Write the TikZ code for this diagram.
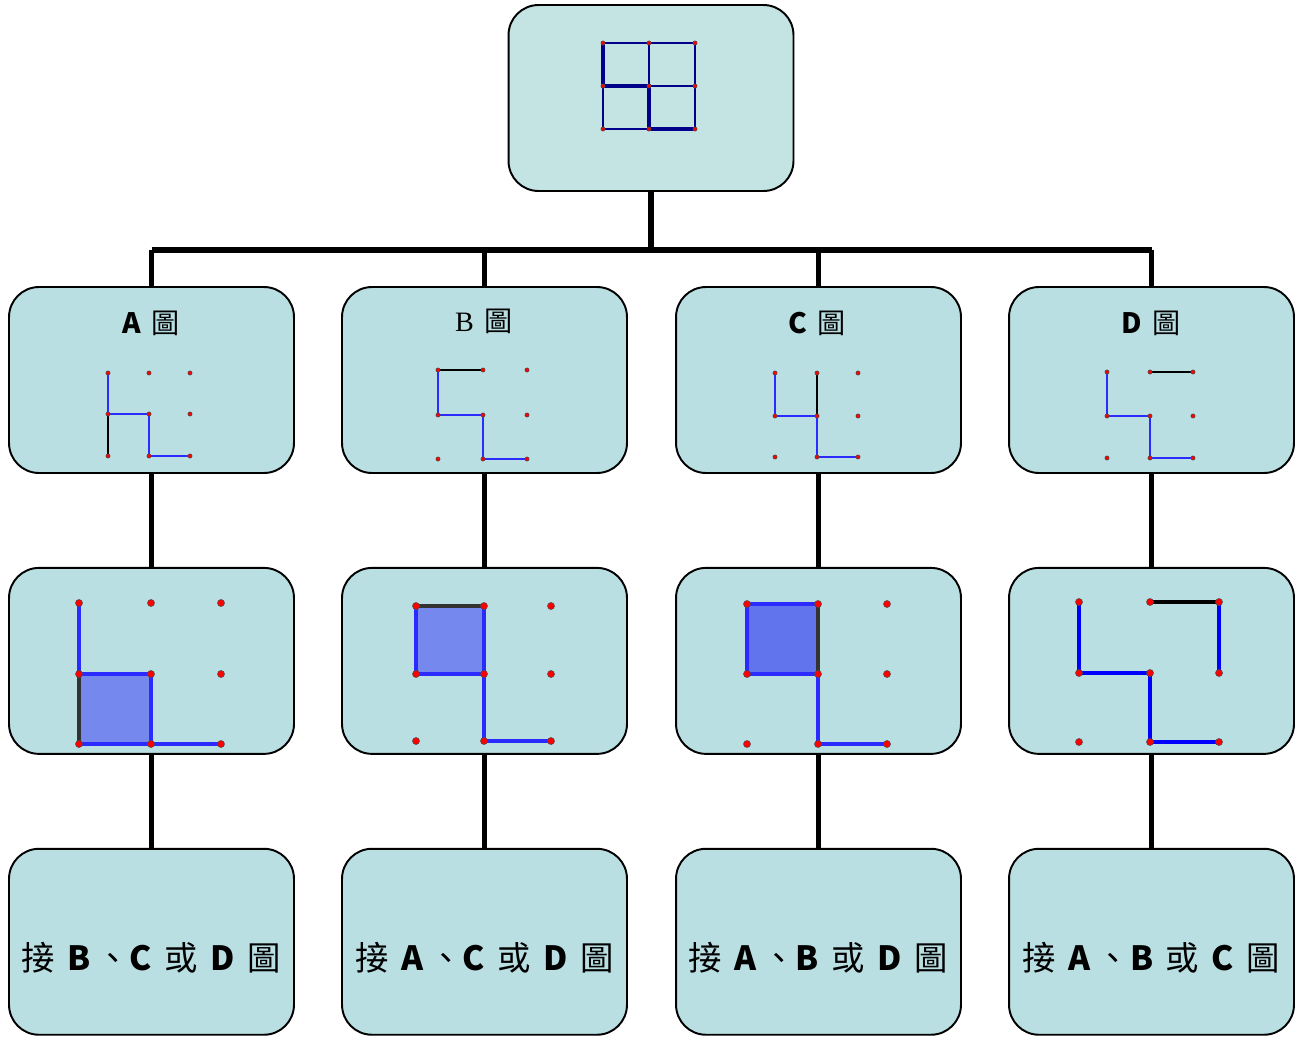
\documentclass[tikz,border=0pt]{standalone}
\usepackage{fontspec}
\setmainfont{Noto Sans CJK TC}
\newfontfamily\serifletter{Liberation Serif}
\usetikzlibrary{positioning}
\definecolor{boxtop}{HTML}{C4E3E3}
\definecolor{boxrow}{HTML}{BADFE3}
\definecolor{pathblue}{HTML}{2B2BFF}
\definecolor{sqfill}{HTML}{7488EE}
\definecolor{sqfilldark}{HTML}{6273EE}
\definecolor{gridnavy}{HTML}{00008B}
\tikzset{
  panel/.style={
    draw,
    line width=1.1pt,
    rounded corners=0.6cm,
    minimum width=5.7cm,
    minimum height=3.72cm,
    inner sep=0pt,
    fill=boxrow
  },
  branch/.style={
    line width=3.2pt
  },
  thinnavy/.style={
    line width=0.6pt,
    gridnavy
  },
  thicknavy/.style={
    line width=1.9pt,
    gridnavy
  },
  seg/.style={
    line width=1.5pt,
    pathblue
  },
  segfix/.style={
    line width=1.5pt,
    black
  },
  bigseg/.style={
    line width=2.3pt,
    pathblue
  },
  bigfix/.style={
    line width=2.3pt,
    black!80
  },
  dotsmall/.style={
    fill=red,
    draw=black!70,
    line width=0.3pt
  },
  heading/.style={
    font=\fontsize{16}{18}\selectfont,
    inner sep=1pt
  },
  rule/.style={
    font=\fontsize{19}{22}\selectfont
  }
}
\newcommand\Rs{1.2pt}
\newcommand\Rb{2pt}
\newcommand\Gap{\hspace{0.38em}}
\newcommand\Let[1]{\textbf{#1}}

\begin{document}
\begin{tikzpicture}[x=0.02cm, y=-0.02cm]
\useasboundingbox (0,0) rectangle (1301,1038);

       \node[panel, fill=boxtop] (top) at (651,98) {};

       \node[panel] (a1) at (151.5,380) {};
       \node[panel] (b1) at (484.5,380) {};
       \node[panel] (c1) at (818.5,380) {};
       \node[panel] (d1) at (1151.5,380) {};

       \node[panel, below=1.86cm of a1] (a2) {};
       \node[panel, below=1.86cm of b1] (b2) {};
       \node[panel, below=1.86cm of c1] (c2) {};
       \node[panel, below=1.86cm of d1] (d2) {};

       \node[panel, below=1.86cm of a2] (a3) {};
       \node[panel, below=1.86cm of b2] (b3) {};
       \node[panel, below=1.86cm of c2] (c3) {};
       \node[panel, below=1.86cm of d2] (d3) {};

       % tree connectors
       \coordinate (bar) at (651,250);
       \draw[branch] (top.south) -- (bar);
       \draw[branch] (a1.north |- bar) -- (d1.north |- bar);
       \foreach \n in {a,b,c,d}{
         \draw[branch] (\n1.north) -- (\n1.north |- bar);
         \draw[branch] (\n1.south) -- (\n2.north);
         \draw[branch] (\n2.south) -- (\n3.north);
       }

       % the full 2x2 grid
       \foreach \x in {603,649,695} \draw[thinnavy] (\x,43) -- (\x,129);
       \foreach \y in {43,86,129} \draw[thinnavy] (603,\y) -- (695,\y);
       \draw[thicknavy] (603,43) -- (603,86) -- (649,86) -- (649,129) -- (695,129);
       \foreach \x in {603,649,695}
         \foreach \y in {43,86,129}
           \filldraw[dotsmall] (\x,\y) circle (\Rs);

       % headings
       \node[heading] (ahead) at (151,323) {\Let{A}\Gap 圖};
       \node[heading] (bhead) at (484,321) {{\serifletter B}\Gap 圖};
       \node[heading] (chead) at (817,323) {\Let{C}\Gap 圖};
       \node[heading] (dhead) at (1151,323) {\Let{D}\Gap 圖};

       % A
       \draw[seg] (108,373) -- (108,414) -- (149,414) -- (149,456) -- (190,456);
       \draw[segfix] (108,414) -- (108,456);
       \foreach \x in {108,149,190}
         \foreach \y in {373,414,456}
           \filldraw[dotsmall] (\x,\y) circle (\Rs);

       % B
       \draw[segfix] (438,370) -- (483,370);
       \draw[seg] (438,370) -- (438,415) -- (483,415) -- (483,459) -- (527,459);
       \foreach \x in {438,483,527}
         \foreach \y in {370,415,459}
           \filldraw[dotsmall] (\x,\y) circle (\Rs);

       % C
       \draw[segfix] (817,373) -- (817,416);
       \draw[seg] (775,373) -- (775,416) -- (817,416) -- (817,457) -- (858,457);
       \foreach \x in {775,817,858}
         \foreach \y in {373,416,457}
           \filldraw[dotsmall] (\x,\y) circle (\Rs);

       % D
       \draw[segfix] (1150,372) -- (1193,372);
       \draw[seg] (1107,372) -- (1107,416) -- (1150,416) -- (1150,458) -- (1193,458);
       \foreach \x in {1107,1150,1193}
         \foreach \y in {372,416,458}
           \filldraw[dotsmall] (\x,\y) circle (\Rs);

       % A closed
       \fill[sqfill] (79,674) rectangle (151,744);
       \draw[bigseg] (79,603) -- (79,674) -- (151,674) -- (151,744) -- (221,744);
       \draw[bigseg] (79,744) -- (151,744);
       \draw[bigfix] (79,674) -- (79,744);
       \foreach \x in {79,151,221}
         \foreach \y in {603,674,744}
           \filldraw[dotsmall] (\x,\y) circle (\Rb);

       % B closed
       \fill[sqfill] (416,606) rectangle (484,674);
       \draw[bigseg] (416,606) -- (416,674) -- (484,674);
       \draw[bigseg] (484,606) -- (484,741) -- (551,741);
       \draw[bigfix] (416,606) -- (484,606);
       \foreach \x in {416,484,551}
         \foreach \y in {606,674,741}
           \filldraw[dotsmall] (\x,\y) circle (\Rb);

       % C closed
       \fill[sqfilldark] (747,604) rectangle (818,674);
       \draw[bigseg] (818,604) -- (747,604) -- (747,674) -- (818,674);
       \draw[bigseg] (818,674) -- (818,744) -- (887,744);
       \draw[bigfix] (818,604) -- (818,674);
       \foreach \x in {747,818,887}
         \foreach \y in {604,674,744}
           \filldraw[dotsmall] (\x,\y) circle (\Rb);

       % D closed
       \draw[bigfix, black] (1150,602) -- (1219,602);
       \draw[bigseg, blue] (1219,602) -- (1219,673);
       \draw[bigseg, blue] (1079,602) -- (1079,673) -- (1150,673) -- (1150,742) -- (1219,742);
       \foreach \x in {1079,1150,1219}
         \foreach \y in {602,673,742}
           \filldraw[dotsmall] (\x,\y) circle (\Rb);

       % rules
       \node[rule] (arule) at (a3 |- 0,958) {接\Gap\Let{B}\,、\Let{C}\Gap 或\Gap\Let{D}\Gap 圖};
       \node[rule] (brule) at (b3 |- 0,958) {接\Gap\Let{A}\,、\Let{C}\Gap 或\Gap\Let{D}\Gap 圖};
       \node[rule] (crule) at (c3 |- 0,958) {接\Gap\Let{A}\,、\Let{B}\Gap 或\Gap\Let{D}\Gap 圖};
       \node[rule] (drule) at (d3 |- 0,958) {接\Gap\Let{A}\,、\Let{B}\Gap 或\Gap\Let{C}\Gap 圖};
\end{tikzpicture}
\end{document}
